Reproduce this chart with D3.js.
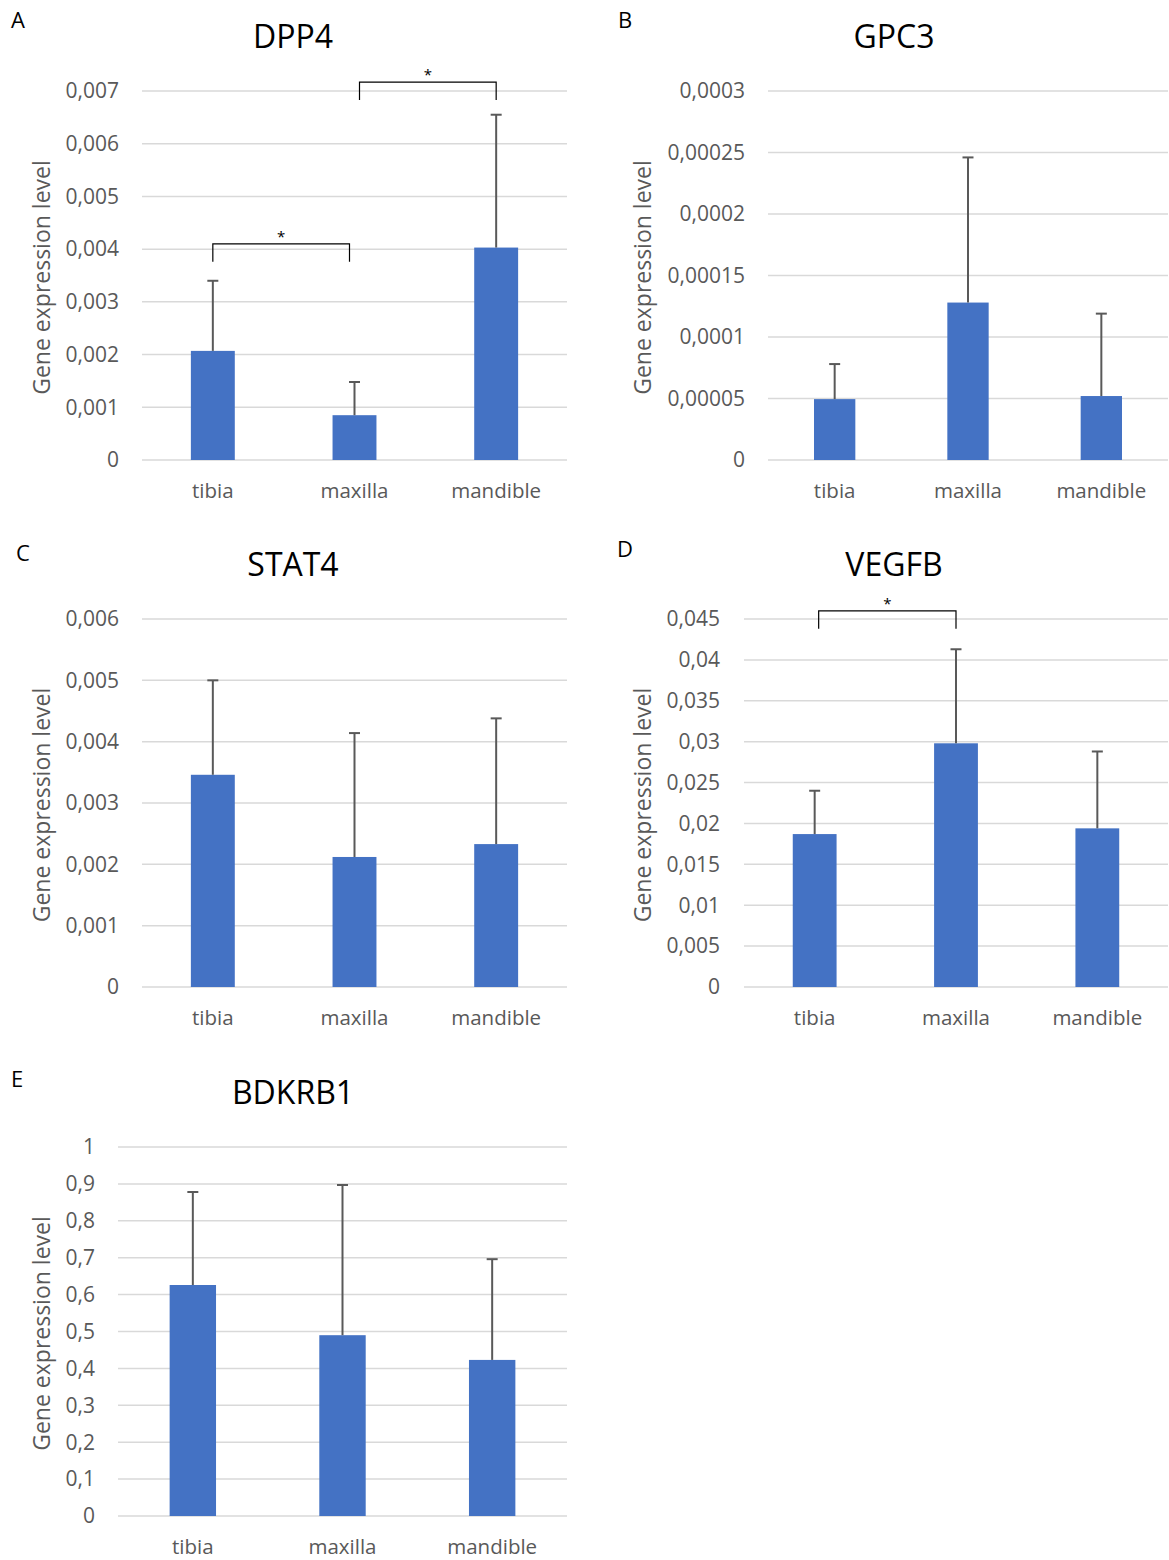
<!DOCTYPE html>
<html>
<head>
<meta charset="utf-8">
<script src="https://cdn.jsdelivr.net/npm/d3@7"></script>
<style>
  body { margin: 0; background: #fff; }
  text { font-family: "Open Sans", sans-serif; }
</style>
</head>
<body>
<div id="app"></div>
<script>
// categories shared by all panels
const categories = ["tibia", "maxilla", "mandible"];

// means and upper error (SD)
const dpp4Mean = [0.00207, 0.00085, 0.00403];
const dpp4Err = [0.00133, 0.00063, 0.00252];
const dpp4Ticks = [0, 0.001, 0.002, 0.003, 0.004, 0.005, 0.006, 0.007];

const gpc3Mean = [0.0000495, 0.000128, 0.000052];
const gpc3Err = [0.0000285, 0.000118, 0.000067];
const gpc3Ticks = [0, 0.00005, 0.0001, 0.00015, 0.0002, 0.00025, 0.0003];

const stat4Mean = [0.00346, 0.00212, 0.00233];
const stat4Err = [0.00154, 0.00202, 0.00205];
const stat4Ticks = [0, 0.001, 0.002, 0.003, 0.004, 0.005, 0.006];

const vegfbMean = [0.0187, 0.0298, 0.0194];
const vegfbErr = [0.0053, 0.0115, 0.0094];
const vegfbTicks = [0, 0.005, 0.01, 0.015, 0.02, 0.025, 0.03, 0.035, 0.04, 0.045];

const bdkrb1Mean = [0.626, 0.49, 0.423];
const bdkrb1Err = [0.252, 0.407, 0.273];
const bdkrb1Ticks = [0, 0.1, 0.2, 0.3, 0.4, 0.5, 0.6, 0.7, 0.8, 0.9, 1];

// significance brackets: [from, to, y value]
const dpp4Sig = [["tibia", "maxilla", 0.0041], ["maxilla", "mandible", 0.00717]];
const vegfbSig = [["tibia", "maxilla", 0.046]];

const locale = d3.formatLocale({ decimal: ",", thousands: ".", grouping: [3], currency: ["", ""] });

const svg = d3.select('#app')
  .append('svg')
    .attr('width', 1169)
    .attr('height', 1560);

const panels = [
  { letter: "A", gene: "DPP4", mean: dpp4Mean, err: dpp4Err, ticks: dpp4Ticks, prec: 3, sig: dpp4Sig,
    x0: 142, x1: 567, y0: 91, y1: 460, labelX: 119, titleX: 42, geneX: 293, geneY: 37, letterX: 11, letterY: 20 },
  { letter: "B", gene: "GPC3", mean: gpc3Mean, err: gpc3Err, ticks: gpc3Ticks, prec: 5, sig: [],
    x0: 768, x1: 1168, y0: 91, y1: 460, labelX: 745, titleX: 643, geneX: 894, geneY: 37, letterX: 618, letterY: 20 },
  { letter: "C", gene: "STAT4", mean: stat4Mean, err: stat4Err, ticks: stat4Ticks, prec: 3, sig: [],
    x0: 142, x1: 567, y0: 619, y1: 987, labelX: 119, titleX: 42, geneX: 293, geneY: 565, letterX: 16, letterY: 553 },
  { letter: "D", gene: "VEGFB", mean: vegfbMean, err: vegfbErr, ticks: vegfbTicks, prec: 3, sig: vegfbSig,
    x0: 744, x1: 1168, y0: 619, y1: 987, labelX: 720, titleX: 643, geneX: 894, geneY: 565, letterX: 617, letterY: 549 },
  { letter: "E", gene: "BDKRB1", mean: bdkrb1Mean, err: bdkrb1Err, ticks: bdkrb1Ticks, prec: 1, sig: [],
    x0: 118, x1: 567, y0: 1147, y1: 1516, labelX: 95, titleX: 42, geneX: 293, geneY: 1093, letterX: 11, letterY: 1079 }
];

function drawPanel(p) {
  const g = svg.append('g');
  const fmt = locale.format(`.${p.prec}~f`);

  const x = d3.scaleBand()
    .domain(categories)
    .range([p.x0, p.x1])
    .paddingInner(0.69)
    .paddingOuter(0.345);

  const y = d3.scaleLinear()
    .domain([0, d3.max(p.ticks)])
    .range([p.y1, p.y0]);

  // gridlines
  g.selectAll('line.grid')
    .data(p.ticks)
    .join('line')
      .attr('class', 'grid')
      .attr('x1', p.x0)
      .attr('x2', p.x1)
      .attr('y1', d => y(d))
      .attr('y2', d => y(d))
      .attr('stroke', '#d9d9d9')
      .attr('stroke-width', 1.5);

  // y tick labels
  g.selectAll('text.tick')
    .data(p.ticks)
    .join('text')
      .attr('class', 'tick')
      .attr('x', p.labelX)
      .attr('y', d => y(d))
      .attr('dy', '0.35em')
      .attr('text-anchor', 'end')
      .attr('font-size', 21)
      .attr('fill', '#595959')
      .text(d => fmt(d));

  const rows = categories.map((c, i) => ({ c, m: p.mean[i], e: p.err[i] }));

  // bars
  g.selectAll('rect.bar')
    .data(rows)
    .join('rect')
      .attr('class', 'bar')
      .attr('x', d => x(d.c))
      .attr('width', x.bandwidth())
      .attr('y', d => y(d.m))
      .attr('height', d => y(0) - y(d.m))
      .attr('fill', '#4472c4');

  // error bars (upper only)
  const cx = d => x(d.c) + x.bandwidth() / 2;
  g.selectAll('line.err')
    .data(rows)
    .join('line')
      .attr('class', 'err')
      .attr('x1', cx).attr('x2', cx)
      .attr('y1', d => y(d.m))
      .attr('y2', d => y(d.m + d.e))
      .attr('stroke', '#595959')
      .attr('stroke-width', 2);
  g.selectAll('line.cap')
    .data(rows)
    .join('line')
      .attr('class', 'cap')
      .attr('x1', d => cx(d) - 5.5).attr('x2', d => cx(d) + 5.5)
      .attr('y1', d => y(d.m + d.e))
      .attr('y2', d => y(d.m + d.e))
      .attr('stroke', '#595959')
      .attr('stroke-width', 2);

  // x labels
  g.selectAll('text.cat')
    .data(categories)
    .join('text')
      .attr('class', 'cat')
      .attr('x', d => x(d) + x.bandwidth() / 2)
      .attr('y', p.y1 + 31)
      .attr('dy', '0.35em')
      .attr('text-anchor', 'middle')
      .attr('font-size', 20.5)
      .attr('fill', '#595959')
      .text(d => d);

  // axis title
  g.append('text')
    .attr('transform', `translate(${p.titleX}, ${(p.y0 + p.y1) / 2 + 2}) rotate(-90)`)
    .attr('dy', '0.35em')
    .attr('text-anchor', 'middle')
    .attr('font-size', 23)
    .attr('fill', '#595959')
    .text('Gene expression level');

  // chart title + panel letter
  g.append('text')
    .attr('x', p.geneX).attr('y', p.geneY)
    .attr('dy', '0.35em')
    .attr('text-anchor', 'middle')
    .attr('font-size', 32)
    .attr('fill', '#000')
    .text(p.gene);
  g.append('text')
    .attr('x', p.letterX).attr('y', p.letterY)
    .attr('dy', '0.35em')
    .attr('font-size', 22)
    .attr('fill', '#000')
    .text(p.letter);

  // significance brackets
  p.sig.forEach(([a, b, v], k) => {
    const shift = p.sig.length > 1 ? (k === 0 ? [0, -5] : [5, 0]) : [4, 0];
    const xa = x(a) + x.bandwidth() / 2 + shift[0];
    const xb = x(b) + x.bandwidth() / 2 + shift[1];
    const yy = y(v);
    g.append('path')
      .attr('d', `M${xa},${yy + 18}V${yy}H${xb}V${yy + 18}`)
      .attr('fill', 'none')
      .attr('stroke', '#000')
      .attr('stroke-width', 1.2);
    g.append('text')
      .attr('x', (xa + xb) / 2)
      .attr('y', yy - 2)
      .attr('text-anchor', 'middle')
      .attr('font-size', 15)
      .attr('fill', '#000')
      .text('*');
  });
}

panels.forEach(drawPanel);
</script>
</body>
</html>
